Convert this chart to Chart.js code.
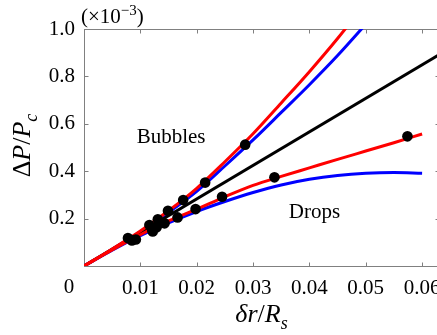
<!DOCTYPE html>
<html><head><meta charset="utf-8">
<script src="https://cdn.jsdelivr.net/npm/chart.js@4/dist/chart.umd.min.js"></script>
<style>
html,body{margin:0;padding:0;overflow:hidden;background:#fff;width:437px;height:335px}
#wrap{position:relative;width:480px;height:335px}
</style></head>
<body><div id="wrap"><canvas id="c" width="480" height="335"></canvas></div>
<script>
// ---- data ----
const xTickValues = [0, 0.01, 0.02, 0.03, 0.04, 0.05, 0.06];
const yTickValues = [0, 0.2, 0.4, 0.6, 0.8, 1.0];
const xMax = 0.063;
const yMax = 1.0;

const curveX     = [0, 0.005, 0.01, 0.015, 0.02, 0.025, 0.03, 0.035, 0.04, 0.045, 0.05, 0.055, 0.06];
const bubbleRed  = [0, 0.072, 0.148, 0.233, 0.328, 0.440, 0.558, 0.688, 0.820, 0.960, 1.110];
const bubbleBlue = [0, 0.071, 0.145, 0.226, 0.315, 0.422, 0.532, 0.648, 0.765, 0.888, 1.020];
const dropRed    = [0, 0.068, 0.132, 0.190, 0.240, 0.292, 0.340, 0.378, 0.414, 0.450, 0.485, 0.520, 0.557];
const dropBlue   = [0, 0.067, 0.128, 0.182, 0.230, 0.272, 0.310, 0.342, 0.366, 0.382, 0.391, 0.394, 0.391];

const linearX = [0, 0.063];
const linearY = [0, 0.891];

const measX = [0.0078, 0.0085, 0.0092, 0.0116, 0.0121, 0.0122, 0.0129, 0.0131, 0.0143, 0.0149, 0.0166, 0.0176, 0.0198, 0.0215, 0.0245, 0.0286, 0.0338, 0.0574];
const measY = [0.118, 0.108, 0.112, 0.173, 0.152, 0.146, 0.163, 0.197, 0.180, 0.233, 0.205, 0.278, 0.240, 0.352, 0.292, 0.512, 0.374, 0.547];

const annotations = [
  {text: 'Bubbles', x: 0.01545, y: 0.519},
  {text: 'Drops',   x: 0.0409,  y: 0.2025}
];

// ---- helpers ----
const pts = (xs, ys) => ys.map((y, i) => ({x: xs[i], y}));
const SERIF = '"Liberation Serif", "Times New Roman", serif';

function drawRich(ctx, segs, x, y, align) {
  // segs: {t, size, italic, dy}
  let w = 0;
  segs.forEach(s => { ctx.font = (s.italic ? 'italic ' : '') + s.size + 'px ' + SERIF; s.w = ctx.measureText(s.t).width; w += s.w + (s.gap || 0); });
  let cx = align === 'center' ? x - w / 2 : x;
  segs.forEach(s => {
    ctx.font = (s.italic ? 'italic ' : '') + s.size + 'px ' + SERIF;
    ctx.fillText(s.t, cx, y + (s.dy || 0));
    cx += s.w + (s.gap || 0);
  });
}

const framePlugin = {
  id: 'frame',
  beforeDatasetsDraw(chart) {
    const {ctx, chartArea: a, scales: {x, y}} = chart;
    ctx.save();
    ctx.strokeStyle = '#808080';
    ctx.lineWidth = 1;
    const L = Math.round(a.left) + 0.5, R = Math.round(x.getPixelForValue(xMax)) + 0.5;
    const T = Math.round(a.top) + 0.5, B = Math.round(a.bottom) + 0.5;
    ctx.strokeRect(L, T, R - L, B - T);
    const tl = 4;
    ctx.beginPath();
    xTickValues.forEach(v => {
      if (v === 0) return;
      const px = Math.round(x.getPixelForValue(v)) + 0.5;
      ctx.moveTo(px, B); ctx.lineTo(px, B - tl);
      ctx.moveTo(px, T); ctx.lineTo(px, T + tl);
    });
    yTickValues.forEach(v => {
      if (v === 0 || v === yMax) return;
      const py = Math.round(y.getPixelForValue(v)) + 0.5;
      ctx.moveTo(L, py); ctx.lineTo(L + tl, py);
      ctx.moveTo(R, py); ctx.lineTo(R - tl, py);
    });
    ctx.stroke();
    ctx.restore();
  },
  afterDraw(chart) {
    const {ctx, chartArea: a, scales: {x, y}} = chart;
    ctx.save();
    ctx.fillStyle = '#000';
    ctx.textBaseline = 'alphabetic';
    // origin "0" label
    ctx.font = '21px ' + SERIF;
    ctx.textAlign = 'center';
    ctx.textBaseline = 'middle';
    ctx.fillText('0', x.getPixelForValue(0) - 15, a.bottom + 21);
    ctx.textBaseline = 'alphabetic';
    ctx.textAlign = 'left';
    // annotations
    annotations.forEach(an => {
      ctx.font = '21px ' + SERIF;
      ctx.textAlign = 'center';
      ctx.fillText(an.text, x.getPixelForValue(an.x), y.getPixelForValue(an.y));
    });
    ctx.textAlign = 'left';
    // exponent
    drawRich(ctx, [
      {t: '(\u00d710', size: 21},
      {t: '\u22123', size: 15, dy: -8},
      {t: ')', size: 21, gap: 0}
    ], a.left - 3, a.top - 6, 'left');
    // x title
    const xc = (a.left + x.getPixelForValue(xMax)) / 2;
    drawRich(ctx, [
      {t: '\u03b4r', size: 26, italic: true},
      {t: '/', size: 26},
      {t: 'R', size: 26, italic: true},
      {t: 's', size: 18, italic: true, dy: 7}
    ], xc, a.bottom + 56, 'center');
    // y title
    ctx.translate(30, (a.top + a.bottom) / 2 - 2);
    ctx.rotate(-Math.PI / 2);
    drawRich(ctx, [
      {t: '\u0394', size: 26},
      {t: 'P', size: 26, italic: true},
      {t: '/', size: 26},
      {t: 'P', size: 26, italic: true},
      {t: 'c', size: 18, italic: true, dy: 7}
    ], 0, 0, 'center');
    ctx.restore();
  }
};

new Chart(document.getElementById('c'), {
  type: 'line',
  data: {
    datasets: [
      {type: 'scatter', data: pts(measX, measY), pointRadius: 5.3, pointBackgroundColor: '#000', pointBorderWidth: 0, showLine: false, order: 0},
      {data: pts(curveX, bubbleRed), borderColor: '#ff0000', borderWidth: 3, pointRadius: 0, tension: 0.4, cubicInterpolationMode: 'monotone', clip: 0, order: 1},
      {data: pts(curveX, dropRed), borderColor: '#ff0000', borderWidth: 3, pointRadius: 0, cubicInterpolationMode: 'monotone', clip: 0, order: 1},
      {data: pts(linearX, linearY), borderColor: '#000000', borderWidth: 3, pointRadius: 0, clip: 0, order: 2},
      {data: pts(curveX, bubbleBlue), borderColor: '#0000ff', borderWidth: 3, pointRadius: 0, cubicInterpolationMode: 'monotone', clip: 0, order: 3},
      {data: pts(curveX, dropBlue), borderColor: '#0000ff', borderWidth: 3, pointRadius: 0, cubicInterpolationMode: 'monotone', clip: 0, order: 3}
    ]
  },
  options: {
    responsive: false,
    animation: false,
    devicePixelRatio: 1,
    layout: {padding: {top: 29, right: 41, left: 0, bottom: 0}},
    plugins: {legend: {display: false}, tooltip: {enabled: false}},
    scales: {
      x: {
        type: 'linear', min: 0, max: xMax,
        grid: {display: false, drawTicks: false},
        border: {display: false},
        afterBuildTicks: s => { s.ticks = xTickValues.map(v => ({value: v})); },
        afterFit: s => { s.height = 69; },
        ticks: {
          padding: 10, color: '#000', maxRotation: 0, autoSkip: false,
          font: {family: SERIF, size: 21},
          callback: v => v === 0 ? '' : v.toFixed(2)
        }
      },
      y: {
        type: 'linear', min: 0, max: yMax,
        grid: {display: false, drawTicks: false},
        border: {display: false},
        afterBuildTicks: s => { s.ticks = yTickValues.map(v => ({value: v})); },
        afterFit: s => { s.width = 84; },
        ticks: {
          padding: 9, color: '#000',
          font: {family: SERIF, size: 21},
          callback: v => v === 0 ? '' : v.toFixed(1)
        }
      }
    }
  },
  plugins: [framePlugin]
});
</script>
</body></html>
